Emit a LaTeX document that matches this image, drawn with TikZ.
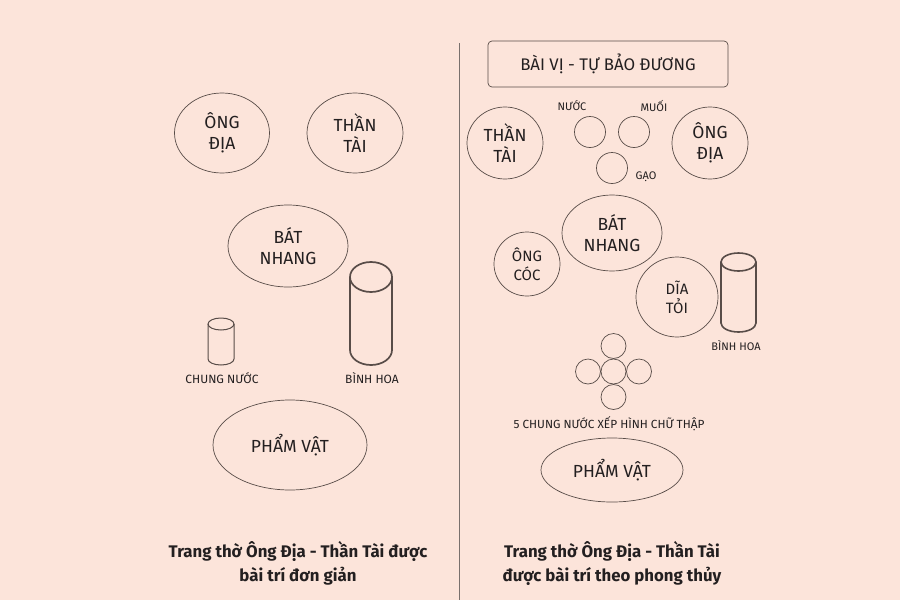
\documentclass[tikz,border=0pt]{standalone}
\usepackage{fontspec}
\setmainfont{Fira Sans}
\usepackage{tikz}
\usetikzlibrary{shapes.geometric}

\definecolor{nen}{RGB}{252,228,218}
\definecolor{net}{RGB}{88,76,72}
\definecolor{chu}{RGB}{35,31,32}

\tikzset{
  vong/.style={draw=net, line width=0.7pt, ellipse, inner sep=0pt, align=center,
    text=chu, font=\fontsize{17.5}{21}\selectfont},
  chen/.style={draw=net, line width=0.7pt, circle, inner sep=0pt, minimum size=#1},
  nho/.style={text=chu, inner sep=0pt, font=\fontsize{#1}{#1}\selectfont},
  chuthich/.style={text=chu, align=center, inner sep=0pt, font=\bfseries\fontsize{16.8}{24}\selectfont}
}

% ong tru: x giua, y nap, y day, ban kinh x, ban kinh y, net
\newcommand{\ongtru}[6]{
  \draw[net, line width=#6] (#1-#4,#2) -- (#1-#4,#3) arc[start angle=180, end angle=0, x radius=#4, y radius=#5] -- (#1+#4,#2);
  \draw[net, line width=#6] (#1,#2) ellipse [x radius=#4, y radius=#5];
}

\begin{document}
\begin{tikzpicture}[x=1pt,y=-1pt]
\fill[nen] (0,0) rectangle (900,600);
\useasboundingbox (0,0) rectangle (900,600);

\draw[net!80, line width=0.8pt] (459,43)--(459,600);

% ben trai
\node[vong, minimum width=95pt, minimum height=80pt] (ongdiaL) at (222,133) {ÔNG\\ĐỊA};
\node[vong, minimum width=96pt, minimum height=80pt] (thantaiL) at (355,133) {THẦN\\TÀI};
\node[vong, minimum width=120pt, minimum height=82pt] (batnhangL) at (288,246) {BÁT\\NHANG};

\ongtru{221}{324}{359}{13}{6}{1pt}
\node[nho=12] (chungnuocL) at (222,378) {CHUNG NƯỚC};
\ongtru{371}{277}{350}{21}{15}{1.7pt}
\node[nho=12] (binhhoaL) at (372,378) {BÌNH HOA};

\node[vong, minimum width=154pt, minimum height=90pt] (phamvatL) at (290,445) {PHẨM VẬT};

\node[chuthich] (chuthichL) at (298,563) {Trang thờ Ông Địa - Thần Tài được\\bài trí đơn giản};

% ben phai
\node[draw=net, line width=0.7pt, rounded corners=4pt, minimum width=240pt, minimum height=46pt,
  text=chu, font=\fontsize{16.8}{21}\selectfont] (baivi) at (608,64) {BÀI VỊ - TỰ BẢO ĐƯƠNG};

\node[vong, minimum width=76pt, minimum height=72pt] (thantaiR) at (505,143) {THẦN\\TÀI};
\node[vong, minimum width=76pt, minimum height=72pt] (ongdiaR) at (710,143) {ÔNG\\ĐỊA};

\node[chen=31pt] (nuoc) at (590,132) {};
\node[chen=31pt] (muoi) at (634,132) {};
\node[chen=31pt] (gao) at (612,168) {};
\node[nho=11] (nuocchu) at (572,106) {NƯỚC};
\node[nho=11] (muoichu) at (654,106) {MUỐI};
\node[nho=11] (gaochu) at (646,177) {GẠO};

\node[vong, minimum width=100pt, minimum height=76pt] (batnhangR) at (612,233) {BÁT\\NHANG};
\node[vong, minimum width=66pt, minimum height=64pt, font=\fontsize{15}{19}\selectfont] (ongcoc) at (527,264) {ÔNG\\CÓC};
\node[vong, minimum width=82pt, minimum height=80pt, font=\fontsize{15}{19}\selectfont] (diatoi) at (677,297) {DĨA\\TỎI};

\ongtru{738.5}{262}{323}{17.5}{9}{1.6pt}
\node[nho=11] (binhhoaR) at (736,346) {BÌNH HOA};

\foreach \ten/\dx/\dy in {giua/0/0, tren/0/-25.5, duoi/0/25.5, trai/-25.5/0, phai/25.5/0}{
  \node[chen=25pt] (chen\ten) at (613.5+\dx,371.5+\dy) {};
}
\node[nho=11.8] (chenchu) at (609,424) {5 CHUNG NƯỚC XẾP HÌNH CHỮ THẬP};

\node[vong, minimum width=142pt, minimum height=64pt] (phamvatR) at (612,470) {PHẨM VẬT};

\node[chuthich] (chuthichR) at (612,563) {Trang thờ Ông Địa - Thần Tài\\được bài trí theo phong thủy};

\end{tikzpicture}
\end{document}
